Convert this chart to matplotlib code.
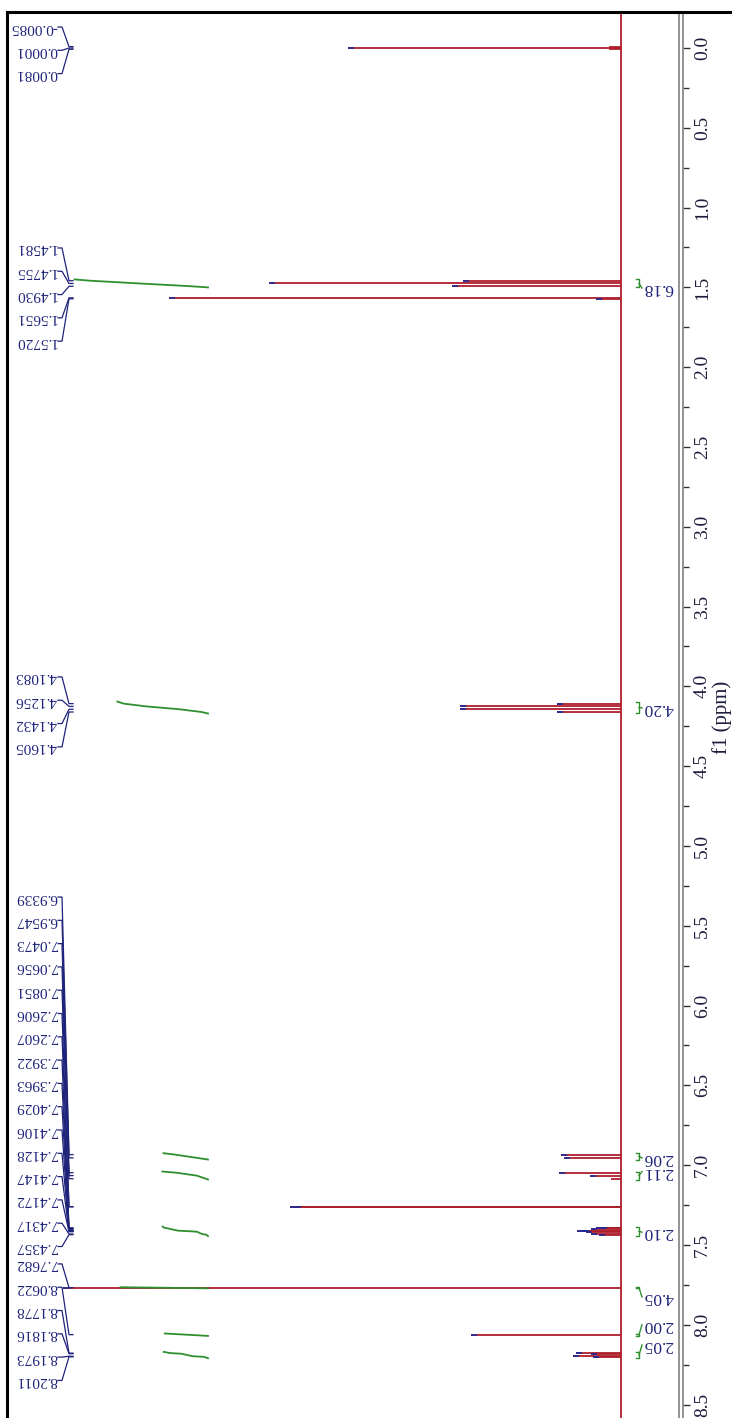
import numpy as np
import matplotlib
matplotlib.use("Agg")
import matplotlib.pyplot as plt
from matplotlib.lines import Line2D

plt.rcParams['font.family'] = ['Liberation Serif', 'DejaVu Serif']

# picked peaks (ppm) and their heights (arbitrary units)
peak_ppm = [-0.0085, 0.0001, 0.0081,
            1.4581, 1.4755, 1.4930, 1.5651, 1.5720,
            4.1083, 4.1256, 4.1432, 4.1605,
            6.9339, 6.9547, 7.0473, 7.0656, 7.0851, 7.2606, 7.2607,
            7.3922, 7.3963, 7.4029, 7.4106, 7.4128, 7.4147, 7.4172, 7.4317, 7.4357,
            7.7682, 8.0622, 8.1778, 8.1816, 8.1973, 8.2011]
peak_height = [12, 273, 12,
               158, 352, 169, 452, 25,
               64, 161, 161, 64,
               60, 57, 62, 31, 10, 331, 326,
               20, 25, 30, 44, 40, 38, 35, 30, 22,
               558, 150, 45, 30, 48, 28]
# label groups: number of labels in each group
label_groups = [3, 5, 4, 16, 6]

# integrals
int_lo = [1.450, 4.095, 6.925, 7.040, 7.385, 7.765, 8.055, 8.170]
int_hi = [1.500, 4.170, 6.965, 7.090, 7.445, 7.772, 8.070, 8.210]
int_value = [6.18, 4.20, 2.06, 2.11, 2.10, 4.05, 2.00, 2.05]

major_ticks = np.arange(0, 8.51, 0.5)

RED = '#ae1f2b'
BLUE = '#1c2a9a'
NAVY = '#1f237a'
GREEN = '#2f8f2f'

W, H = 732, 1418
fig = plt.figure(figsize=(W / 100, H / 100), dpi=100)
ax = fig.add_axes([8 / W, (H - 1424) / H, (683 - 8) / W, (1424 - 12) / H])

def px(x):
    # pixel column -> intensity units (baseline at column 621)
    return 621 - x

ax.set_xlim(px(8), px(683))
ax.set_ylim(8.622, -0.2256)

# spectrum
ax.axvline(0, color=RED, lw=1.3, zorder=2)
ax.hlines(peak_ppm, 0, peak_height, color=RED, lw=1.3, zorder=3)
hh = np.array(peak_height)
tips = hh > 15
ax.hlines(np.array(peak_ppm)[tips], hh[tips] - 6, hh[tips], color=BLUE, lw=1.2, zorder=4)

# peak labels
step = 23.3 / 159.6
group_start = [-0.1316, 1.253, 3.941, 5.320, 7.619]
i = 0
for n, y0 in zip(label_groups, group_start):
    for k in range(n):
        ly = y0 + k * step
        p = peak_ppm[i]
        ax.plot([px(58), px(62), px(69), px(73)], [ly, ly, p, p],
                color=NAVY, lw=0.9, zorder=5)
        ax.text(px(57), ly, f"{p:.4f}", rotation=180, ha='right', va='center',
                fontsize=11, color=NAVY, zorder=6)
        i += 1

# integral curves and labels
pp = np.array(peak_ppm)
int_label_pos = [1.504, 4.135, 6.955, 7.040, 7.420, 7.826, 8.000, 8.127]
scale = 21.6
for lo, hi, val, lp in zip(int_lo, int_hi, int_value, int_label_pos):
    sel = (pp >= lo) & (pp <= hi)
    ps = pp[sel][::-1]
    hs = hh[sel][::-1]
    frac = (np.cumsum(hs) - hs / 2) / hs.sum()
    ys = np.concatenate([[hi], ps, [lo]])
    cs = np.concatenate([[0], frac, [1]])
    ax.plot(px(208) + cs * val * scale, ys, color=GREEN, lw=1.3, zorder=4)
    # bracket under the axis
    ax.plot([px(636), px(639), px(639), px(636)], [lo, lo, hi, hi], color=GREEN, lw=1.0)
    mid = (lo + hi) / 2
    ax.plot([px(639), px(642)], [mid, lp], color=GREEN, lw=1.0)
    ax.text(px(643), lp, f"{val:.2f}", rotation=180, ha='left', va='center',
            fontsize=12.5, color=NAVY)

# axis on the right
for s in ['left', 'top', 'bottom']:
    ax.spines[s].set_visible(False)
ax.spines['right'].set_color('#808080')
ax.spines['right'].set_linewidth(1.2)
ax.axvline(px(679), color='#808080', lw=1.2)
ax.set_xticks([])
ax.yaxis.tick_right()
ax.set_yticks(major_ticks)
ax.set_yticks(major_ticks[:-1] + 0.25, minor=True)
ax.set_yticklabels([f"{t:.1f}" for t in major_ticks])
ax.tick_params(axis='y', which='major', length=5, width=1, color='#333333',
               labelsize=14, labelcolor='#1c1c3c', labelrotation=90, pad=3)
ax.tick_params(axis='y', which='minor', length=4, width=1, color='#333333')
for t in ax.get_yticklabels():
    t.set_va('center')
fig.text(722 / W, 1 - 717 / H, 'f1 (ppm)', rotation=90, ha='center', va='center',
         fontsize=15, color='#1c1c3c')

# outer frame
fig.add_artist(Line2D([7 / W, 7 / W], [0, 1 - 12 / H], color='black', lw=2.2,
                      transform=fig.transFigure))
fig.add_artist(Line2D([7 / W, 1], [1 - 12 / H, 1 - 12 / H], color='black', lw=2.2,
                      transform=fig.transFigure))

fig.savefig('out.png', dpi=100)
